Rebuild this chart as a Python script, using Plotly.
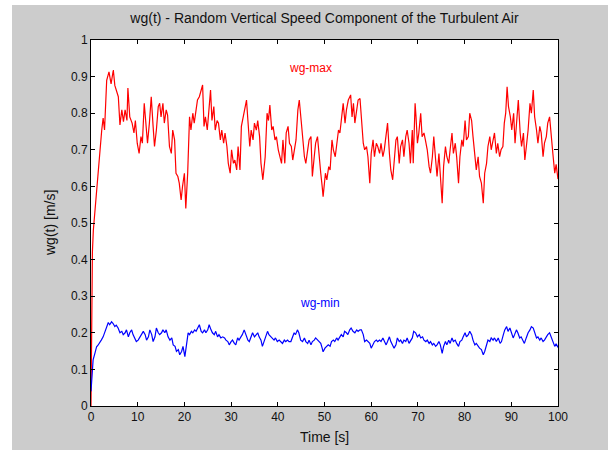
import plotly.graph_objects as go

# ---- data ----
t_max = [0, 0.15, 0.3, 0.5, 0.86, 1.2, 1.57, 1.93, 2.3, 2.6,
         2.9, 3.36, 3.85, 4.3, 4.78, 5.1, 5.5, 5.85, 6.2, 6.6,
         6.95, 7.3, 7.7, 7.9, 8.3, 8.8, 9.2, 9.5, 9.9, 10.3,
         10.7, 11.0, 11.4, 11.8, 12.1, 12.5, 12.9, 13.3, 13.6, 14.0,
         14.4, 14.7, 15.0, 15.4, 15.7, 16.1, 16.4, 16.8, 17.2, 17.5,
         17.9, 18.2, 18.6, 18.9, 19.3, 19.6, 20.0, 20.3, 20.7, 21.1,
         21.4, 21.8, 22.1, 22.5, 22.8, 23.2, 23.5, 23.9, 24.2, 24.5,
         24.9, 25.2, 25.6, 25.9, 26.3, 26.6, 27.0, 27.3, 27.7, 28.0,
         28.4, 28.7, 29.1, 29.4, 29.8, 30.1, 30.5, 30.8, 31.2, 31.5,
         31.9, 32.2, 32.6, 32.9, 33.3, 33.6, 34.0, 34.3, 34.7, 35.0,
         35.4, 35.7, 36.1, 36.4, 36.8, 37.3, 37.7, 38.0, 38.3, 38.7,
         39.0, 39.4, 39.7, 40.1, 40.4, 40.8, 41.1, 41.5, 41.8, 42.2,
         42.5, 42.9, 43.2, 43.6, 43.9, 44.3, 44.6, 45.0, 45.3, 45.7,
         46.0, 46.4, 46.7, 47.1, 47.4, 47.8, 48.1, 48.5, 48.8, 49.2,
         49.5, 49.7, 50.2, 50.5, 50.9, 51.2, 51.6, 51.9, 52.3, 52.6,
         53.0, 53.3, 53.7, 54.0, 54.4, 54.7, 55.1, 55.6, 55.9, 56.2,
         56.5, 56.9, 57.2, 57.6, 57.9, 58.3, 58.6, 59.0, 59.3, 59.7,
         60.0, 60.4, 60.7, 61.1, 61.4, 61.8, 62.1, 62.5, 62.8, 63.2,
         63.5, 63.9, 64.2, 64.6, 64.9, 65.3, 65.6, 66.0, 66.3, 66.7,
         67.0, 67.4, 67.7, 68.1, 68.4, 68.8, 69.0, 69.4, 69.6, 69.9,
         70.2, 70.6, 70.9, 71.3, 71.6, 72.0, 72.4, 72.7, 73.1, 73.4,
         73.8, 74.1, 74.5, 74.8, 75.2, 75.5, 75.9, 76.2, 76.6, 76.9,
         77.3, 77.6, 78.0, 78.3, 78.7, 79.0, 79.4, 79.7, 80.1, 80.4,
         80.8, 81.1, 81.5, 81.8, 82.2, 82.5, 82.9, 83.2, 83.6, 84.0,
         84.3, 84.7, 85.0, 85.4, 85.7, 86.1, 86.4, 86.8, 87.1, 87.5,
         87.8, 88.2, 88.5, 88.8, 89.1, 89.4, 89.8, 90.1, 90.5, 90.8,
         91.2, 91.5, 91.9, 92.2, 92.6, 92.9, 93.3, 93.6, 94.0, 94.3,
         94.7, 95.0, 95.4, 95.7, 96.1, 96.4, 96.8, 97.1, 97.5, 97.8,
         98.2, 98.5, 98.9, 99.3, 99.6, 100]
wg_max = [0, 0.25, 0.42, 0.48, 0.535, 0.60, 0.645, 0.70, 0.754, 0.787,
          0.754, 0.89, 0.913, 0.88, 0.918, 0.876, 0.859, 0.845, 0.768, 0.809,
          0.777, 0.809, 0.78, 0.869, 0.79, 0.773, 0.746, 0.78, 0.718, 0.69,
          0.736, 0.718, 0.827, 0.764, 0.718, 0.773, 0.845, 0.764, 0.709, 0.754,
          0.818, 0.827, 0.79, 0.827, 0.773, 0.809, 0.795, 0.709, 0.69, 0.754,
          0.727, 0.636, 0.627, 0.609, 0.563, 0.60, 0.636, 0.54, 0.636, 0.79,
          0.754, 0.80, 0.773, 0.809, 0.836, 0.845, 0.863, 0.877, 0.764, 0.79,
          0.754, 0.80, 0.863, 0.78, 0.818, 0.754, 0.78, 0.773, 0.727, 0.754,
          0.718, 0.746, 0.709, 0.663, 0.636, 0.70, 0.663, 0.672, 0.645, 0.709,
          0.645, 0.764, 0.79, 0.818, 0.836, 0.78, 0.709, 0.754, 0.727, 0.773,
          0.754, 0.78, 0.736, 0.663, 0.618, 0.681, 0.80, 0.78, 0.822, 0.754,
          0.764, 0.727, 0.736, 0.70, 0.681, 0.663, 0.727, 0.663, 0.746, 0.764,
          0.718, 0.709, 0.672, 0.70, 0.727, 0.809, 0.836, 0.78, 0.727, 0.681,
          0.663, 0.70, 0.727, 0.736, 0.627, 0.681, 0.718, 0.736, 0.681, 0.636,
          0.60, 0.572, 0.636, 0.618, 0.654, 0.645, 0.727, 0.70, 0.681, 0.709,
          0.754, 0.746, 0.79, 0.827, 0.773, 0.809, 0.836, 0.85, 0.79, 0.827,
          0.773, 0.809, 0.836, 0.84, 0.78, 0.718, 0.70, 0.709, 0.681, 0.609,
          0.69, 0.727, 0.681, 0.718, 0.709, 0.69, 0.718, 0.681, 0.70, 0.746,
          0.773, 0.69, 0.645, 0.618, 0.663, 0.727, 0.736, 0.663, 0.709, 0.727,
          0.681, 0.736, 0.754, 0.718, 0.663, 0.754, 0.663, 0.827, 0.79, 0.718,
          0.746, 0.80, 0.736, 0.746, 0.727, 0.70, 0.654, 0.636, 0.681, 0.736,
          0.672, 0.627, 0.69, 0.627, 0.554, 0.654, 0.709, 0.681, 0.663, 0.70,
          0.746, 0.69, 0.718, 0.681, 0.609, 0.681, 0.727, 0.709, 0.78, 0.727,
          0.736, 0.80, 0.78, 0.736, 0.681, 0.645, 0.681, 0.627, 0.609, 0.554,
          0.636, 0.663, 0.709, 0.736, 0.70, 0.727, 0.746, 0.69, 0.718, 0.681,
          0.70, 0.709, 0.773, 0.80, 0.872, 0.818, 0.79, 0.754, 0.80, 0.718,
          0.773, 0.836, 0.746, 0.709, 0.746, 0.672, 0.718, 0.754, 0.827, 0.80,
          0.863, 0.79, 0.754, 0.718, 0.764, 0.746, 0.681, 0.718, 0.736, 0.773,
          0.79, 0.754, 0.69, 0.636, 0.66, 0.62]

t_min = [0, 0.2, 0.45, 0.86, 1.2, 1.5, 1.9, 2.2, 2.6, 2.9,
         3.3, 3.7, 4.0, 4.4, 4.7, 5.1, 5.4, 5.8, 6.2, 6.6,
         6.9, 7.3, 7.6, 8.0, 8.3, 8.7, 9.0, 9.4, 9.7, 10.1,
         10.4, 10.8, 11.2, 11.6, 11.9, 12.3, 12.6, 13.0, 13.3, 13.7,
         14.0, 14.4, 14.7, 15.1, 15.4, 15.8, 16.1, 16.5, 16.9, 17.3,
         17.6, 18.0, 18.3, 18.7, 19.0, 19.4, 19.7, 20.1, 20.4, 20.8,
         21.1, 21.5, 21.8, 22.2, 22.5, 22.9, 23.2, 23.6, 23.9, 24.3,
         24.6, 25.0, 25.3, 25.7, 26.0, 26.4, 26.7, 27.1, 27.4, 27.8,
         28.2, 28.6, 28.9, 29.3, 29.6, 30.0, 30.3, 30.7, 31.0, 31.4,
         31.7, 32.1, 32.4, 32.8, 33.2, 33.6, 33.9, 34.3, 34.6, 35.0,
         35.3, 35.7, 36.0, 36.4, 36.7, 37.1, 37.4, 37.8, 38.1, 38.5,
         38.8, 39.2, 39.5, 39.9, 40.3, 40.7, 41.0, 41.4, 41.7, 42.1,
         42.4, 42.8, 43.1, 43.5, 43.8, 44.2, 44.5, 44.9, 45.3, 45.7,
         46.0, 46.4, 46.7, 47.1, 47.4, 47.8, 48.1, 48.5, 48.8, 49.2,
         49.5, 49.7, 50.1, 50.5, 50.8, 51.2, 51.5, 51.9, 52.2, 52.6,
         52.9, 53.3, 53.6, 54.0, 54.3, 54.7, 55.0, 55.4, 55.7, 56.1,
         56.5, 56.9, 57.2, 57.6, 57.9, 58.3, 58.6, 59.0, 59.3, 59.7,
         60.0, 60.4, 60.7, 61.1, 61.4, 61.8, 62.1, 62.5, 62.8, 63.2,
         63.5, 63.9, 64.2, 64.6, 64.9, 65.3, 65.6, 66.0, 66.3, 66.7,
         67.0, 67.4, 67.7, 68.1, 68.4, 68.8, 69.1, 69.5, 69.9, 70.3,
         70.6, 71.0, 71.3, 71.7, 72.0, 72.4, 72.7, 73.1, 73.4, 73.8,
         74.1, 74.5, 74.8, 75.2, 75.5, 75.9, 76.2, 76.6, 76.9, 77.3,
         77.6, 78.0, 78.3, 78.7, 79.0, 79.4, 79.7, 80.1, 80.4, 80.8,
         81.1, 81.5, 81.8, 82.2, 82.5, 82.9, 83.2, 83.6, 84.0, 84.3,
         84.7, 85.0, 85.4, 85.7, 86.1, 86.4, 86.8, 87.2, 87.6, 87.9,
         88.3, 88.6, 89.0, 89.3, 89.7, 90.0, 90.4, 90.7, 91.1, 91.4,
         91.8, 92.1, 92.5, 92.8, 93.2, 93.6, 94.0, 94.3, 94.7, 95.0,
         95.4, 95.7, 96.1, 96.4, 96.8, 97.1, 97.5, 97.8, 98.2, 98.5,
         98.9, 99.3, 99.6, 100]
wg_min = [0.04, 0.098, 0.126, 0.145, 0.162, 0.166, 0.176, 0.18, 0.189, 0.20,
          0.217, 0.228, 0.222, 0.23, 0.226, 0.217, 0.221, 0.213, 0.20, 0.204,
          0.195, 0.20, 0.208, 0.189, 0.20, 0.208, 0.195, 0.186, 0.176, 0.18,
          0.186, 0.195, 0.204, 0.195, 0.18, 0.189, 0.208, 0.195, 0.176, 0.189,
          0.213, 0.20, 0.195, 0.20, 0.208, 0.20, 0.208, 0.189, 0.18, 0.186,
          0.167, 0.163, 0.149, 0.154, 0.14, 0.149, 0.163, 0.135, 0.163, 0.20,
          0.195, 0.204, 0.20, 0.208, 0.204, 0.213, 0.222, 0.204, 0.20, 0.208,
          0.20, 0.208, 0.222, 0.208, 0.20, 0.195, 0.204, 0.189, 0.195, 0.186,
          0.189, 0.186, 0.18, 0.176, 0.167, 0.176, 0.18, 0.171, 0.167, 0.186,
          0.18, 0.189, 0.195, 0.208, 0.195, 0.18, 0.176, 0.189, 0.20, 0.189,
          0.195, 0.20, 0.189, 0.18, 0.163, 0.176, 0.189, 0.204, 0.195, 0.189,
          0.186, 0.18, 0.186, 0.176, 0.18, 0.176, 0.171, 0.18, 0.176, 0.18,
          0.176, 0.176, 0.186, 0.20, 0.195, 0.208, 0.20, 0.18, 0.176, 0.186,
          0.176, 0.171, 0.18, 0.167, 0.176, 0.18, 0.186, 0.18, 0.176, 0.171,
          0.158, 0.148, 0.158, 0.163, 0.167, 0.163, 0.176, 0.18, 0.176, 0.186,
          0.18, 0.189, 0.195, 0.189, 0.204, 0.20, 0.195, 0.208, 0.213, 0.204,
          0.20, 0.208, 0.204, 0.208, 0.208, 0.195, 0.176, 0.18, 0.176, 0.171,
          0.158, 0.171, 0.176, 0.18, 0.176, 0.18, 0.176, 0.186, 0.176, 0.167,
          0.176, 0.189, 0.176, 0.167, 0.158, 0.167, 0.186, 0.176, 0.18, 0.171,
          0.18, 0.176, 0.186, 0.171, 0.176, 0.186, 0.204, 0.20, 0.189, 0.195,
          0.186, 0.189, 0.18, 0.176, 0.18, 0.171, 0.176, 0.167, 0.171, 0.163,
          0.167, 0.176, 0.167, 0.144, 0.163, 0.176, 0.167, 0.18, 0.171, 0.186,
          0.176, 0.18, 0.171, 0.163, 0.176, 0.18, 0.189, 0.20, 0.189, 0.195,
          0.204, 0.195, 0.18, 0.167, 0.171, 0.163, 0.158, 0.154, 0.14, 0.149,
          0.167, 0.18, 0.176, 0.186, 0.18, 0.186, 0.176, 0.186, 0.171, 0.176,
          0.195, 0.208, 0.217, 0.204, 0.213, 0.20, 0.186, 0.195, 0.208, 0.20,
          0.186, 0.189, 0.18, 0.171, 0.186, 0.20, 0.208, 0.217, 0.213, 0.20,
          0.186, 0.189, 0.18, 0.186, 0.176, 0.18, 0.189, 0.195, 0.20, 0.189,
          0.176, 0.163, 0.17, 0.16]

title_text = "wg(t) - Random Vertical Speed Component of the Turbulent Air"
x_title = "Time [s]"
y_title = "wg(t) [m/s]"

W, H = 608, 450
L, R, T, B = 91, 50, 40, 44
pw, ph = W - L - R, H - T - B
FONT = "Liberation Sans, Arial, sans-serif"
GREY = "#cccccc"

fig = go.Figure()
fig.add_trace(go.Scatter(x=t_max, y=wg_max, mode="lines",
                         line=dict(color="#ff0000", width=1.2), name="wg-max"))
fig.add_trace(go.Scatter(x=t_min, y=wg_min, mode="lines",
                         line=dict(color="#0000ff", width=1.2), name="wg-min"))

axis_common = dict(showline=True, linecolor="black", linewidth=1, mirror="ticks",
                   ticks="inside", ticklen=4, tickcolor="black", showgrid=False,
                   zeroline=False, tickfont=dict(family=FONT, size=12, color="#111111"))

fig.update_layout(
    width=W, height=H,
    margin=dict(l=L, r=R, t=T, b=B, autoexpand=False),
    paper_bgcolor=GREY, plot_bgcolor="white",
    showlegend=False,
    font=dict(family=FONT, size=12, color="#111111"),
    title=dict(text=title_text, x=(L + pw / 2) / W, xanchor="center",
               y=1 - 18 / H, yanchor="middle", yref="container",
               font=dict(family=FONT, size=14, color="#111111")),
    xaxis=dict(range=[0, 100], dtick=10, tick0=0, **axis_common),
    yaxis=dict(range=[0, 1], dtick=0.1, tick0=0, **axis_common),
)

# white strips at left and top edges of the figure window
fig.add_shape(type="rect", xref="paper", yref="paper",
              x0=-L / pw - 0.01, x1=(12 - L) / pw, y0=-B / ph - 0.01, y1=(H - B + 2) / ph,
              fillcolor="white", line=dict(width=0), layer="above")
fig.add_shape(type="rect", xref="paper", yref="paper",
              x0=-L / pw - 0.01, x1=1 + R / pw + 0.01, y0=(ph + T - 5) / ph, y1=(ph + T + 2) / ph,
              fillcolor="white", line=dict(width=0), layer="above")

fig.add_annotation(text=x_title, xref="paper", yref="paper", x=0.5, y=-31 / ph,
                   xanchor="center", yanchor="middle", showarrow=False,
                   font=dict(family=FONT, size=14, color="#111111"))
fig.add_annotation(text=y_title, xref="paper", yref="paper", x=(50 - L) / pw, y=0.5,
                   xanchor="center", yanchor="middle", textangle=-90, showarrow=False,
                   font=dict(family=FONT, size=14, color="#111111"))
fig.add_annotation(text="wg-max", x=47, y=0.923, xanchor="center", yanchor="middle",
                   showarrow=False, font=dict(family=FONT, size=12, color="#ff0000"))
fig.add_annotation(text="wg-min", x=49, y=0.281, xanchor="center", yanchor="middle",
                   showarrow=False, font=dict(family=FONT, size=12, color="#0000ff"))

fig.write_html("out.html", config={"displayModeBar": False},
               post_script="document.body.style.margin='0';document.body.style.overflow='hidden';")
